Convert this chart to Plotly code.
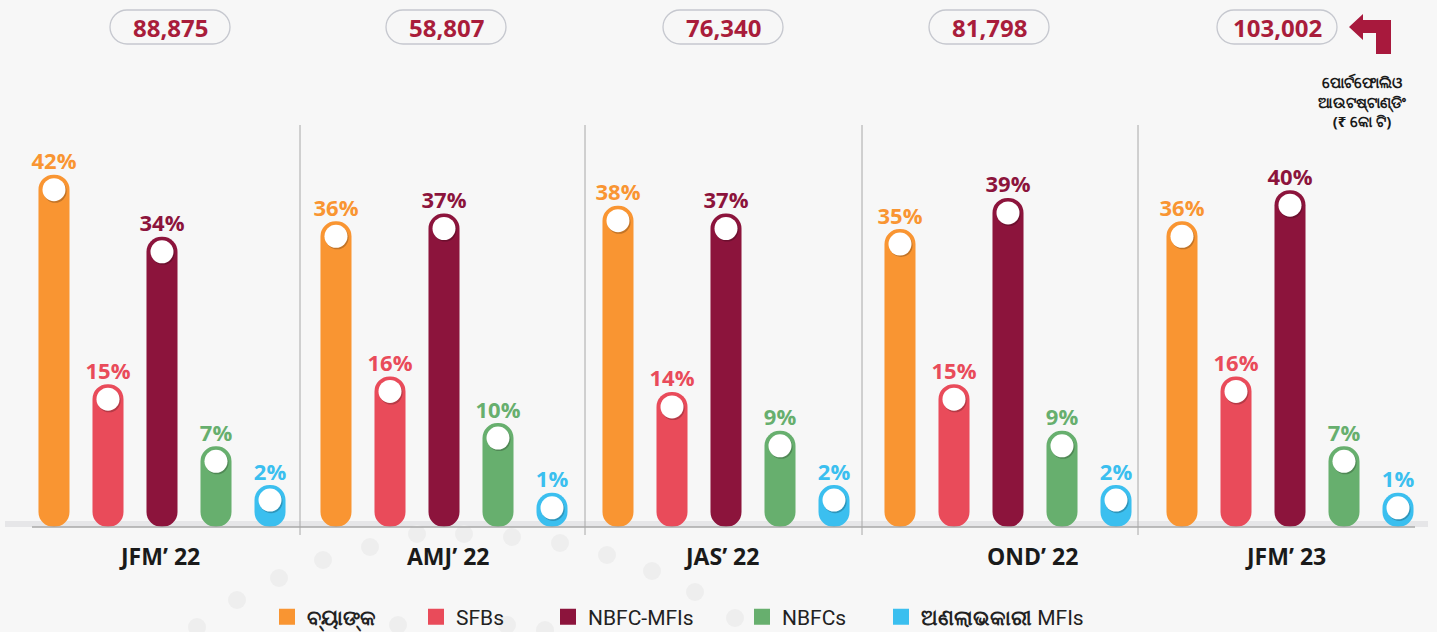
import plotly.graph_objects as go

quarters = ["JFM’ 22", "AMJ’ 22", "JAS’ 22", "OND’ 22", "JFM’ 23"]
banks = [42, 36, 38, 35, 36]
sfbs = [15, 16, 14, 15, 16]
nbfc_mfis = [34, 37, 37, 39, 40]
nbfcs = [7, 10, 9, 9, 7]
nonprofit_mfis = [2, 1, 2, 2, 1]
portfolio = [88875, 58807, 76340, 81798, 103002]

series = [
    ("<b>ବ୍ୟାଙ୍କ</b>", banks, "#F99532"),
    ("SFBs", sfbs, "#E94B5A"),
    ("NBFC-MFIs", nbfc_mfis, "#8C143C"),
    ("NBFCs", nbfcs, "#67AF6E"),
    ("<b>ଅଣଲାଭକାରୀ</b> MFIs", nonprofit_mfis, "#3BBFEF"),
]

BG = "#F7F7F7"
STEP = 0.1915
BAR_W = 0.11
SCALE = 7.76  # px per percentage point
PAD = 3.4     # bars start a little below the zero line, as in the original design
CAP = 15 / SCALE  # white dot sits this far below the bar top
L, T, W, H = 21, 100, 1410, 427  # plot area in pixels


def px(x):
    return (x - L) / W


def py(y):
    return (T + H - y) / H


legend_left = [280, 429, 561, 755, 894]

fig = go.Figure()

for j, (name, vals, col) in enumerate(series):
    off = (j - 2) * STEP
    xs = [i + off for i in range(len(quarters))]
    lg = "legend" if j == 0 else f"legend{j + 1}"
    fig.add_trace(go.Bar(
        x=list(range(len(quarters))), y=[v + PAD for v in vals], base=-PAD,
        offset=off - BAR_W / 2, width=BAR_W, showlegend=False,
        marker=dict(color=col, cornerradius="50%", line=dict(width=0)),
        hoverinfo="skip",
    ))
    fig.add_trace(go.Scatter(
        x=[x + 0.004 for x in xs], y=[v - CAP - 0.2 for v in vals], mode="markers",
        marker=dict(size=23, color="rgba(0,0,0,0.22)"),
        showlegend=False, hoverinfo="skip",
    ))
    fig.add_trace(go.Scatter(
        x=xs, y=[v - CAP for v in vals], mode="markers",
        marker=dict(size=23, color="white"),
        showlegend=False, hoverinfo="skip",
    ))
    fig.add_trace(go.Scatter(
        x=xs, y=vals, mode="text", text=[f"{v}%" for v in vals],
        textposition="top center",
        textfont=dict(family="Open Sans", size=22, color=col, weight="bold"),
        showlegend=False, hoverinfo="skip",
    ))
    # legend entry with a larger square swatch
    fig.add_trace(go.Scatter(
        x=[None], y=[None], mode="markers", name=name, legend=lg,
        marker=dict(symbol="square", size=16, color=col),
    ))

shapes = []
shapes.append(dict(type="rect", xref="paper", yref="paper", x0=px(5), x1=px(1428), y0=0, y1=6 / H,
                   fillcolor="#E6E6E8", line=dict(width=0), layer="below"))
shapes.append(dict(type="line", xref="paper", yref="paper", x0=px(32), x1=px(1415), y0=0, y1=0,
                   line=dict(color="#A8A8A8", width=1.5)))
for dvx in [300, 585, 862, 1138]:
    shapes.append(dict(type="line", xref="paper", yref="paper", x0=px(dvx), x1=px(dvx),
                       y0=-8 / H, y1=py(125), line=dict(color="#A8A8A8", width=1), layer="below"))

# decorative background dots
dots = [(237, 600), (279, 578), (323, 560), (370, 547), (417, 534), (464, 534), (512, 537),
        (560, 543), (607, 555), (652, 571), (695, 592), (735, 618), (197, 627), (507, 625),
        (545, 630), (398, 625)]
for dx, dy in dots:
    shapes.append(dict(type="circle", xref="paper", yref="paper",
                       xsizemode="pixel", ysizemode="pixel",
                       xanchor=px(dx), yanchor=py(dy), x0=-9, x1=9, y0=-9, y1=9,
                       fillcolor="#EEEEEE", line=dict(width=0), layer="below"))

# rounded pills for portfolio totals
k = 9.4
pill = (f"M -43,17 L 43,17 C {43 + k},17 60,{k} 60,0 C 60,{-k} {43 + k},-17 43,-17 "
        f"L -43,-17 C {-43 - k},-17 -60,{-k} -60,0 C -60,{k} {-43 - k},17 -43,17 Z")
pill_x = [170, 446, 723, 989, 1277]
pill_y = py(27)
for cx in pill_x:
    shapes.append(dict(type="path", xref="paper", yref="paper", xsizemode="pixel", ysizemode="pixel",
                       xanchor=px(cx), yanchor=pill_y, path=pill,
                       line=dict(color="#C6C8CF", width=1.3), fillcolor="rgba(0,0,0,0)"))

# bent arrow at top right
ax, ay = 1349, 27
pts = [(1349, 27), (1363, 14), (1363, 20), (1391, 20), (1391, 54), (1376, 54),
       (1376, 33), (1363, 33), (1363, 40)]
arrow = "M " + " L ".join(f"{x - ax},{ay - y}" for x, y in pts) + " Z"
shapes.append(dict(type="path", xref="paper", yref="paper", xsizemode="pixel", ysizemode="pixel",
                   xanchor=px(ax), yanchor=py(ay), path=arrow,
                   fillcolor="#A8193D", line=dict(width=0)))

annotations = []
for cx, p in zip(pill_x, portfolio):
    annotations.append(dict(x=px(cx), y=pill_y, xref="paper", yref="paper", text=f"<b>{p:,}</b>",
                            xanchor="center", yanchor="middle", showarrow=False,
                            font=dict(family="Open Sans", size=24, color="#A91D3B")))
label_x = [159, 448, 721, 1032, 1285]
for lx, q in zip(label_x, quarters):
    annotations.append(dict(x=px(lx), y=py(556), xref="paper", yref="paper", text=f"<b>{q}</b>",
                            xanchor="center", yanchor="middle", showarrow=False,
                            font=dict(family="Open Sans", size=23, color="#1A1A1A")))
annotations.append(dict(x=px(1362), y=py(101), xref="paper", yref="paper",
                        text="<b>ପୋର୍ଟଫୋଲିଓ<br>ଆଉଟଷ୍ଟାଣ୍ଡିଂ<br>(₹ କୋ ଟି)</b>",
                        xanchor="center", yanchor="middle", showarrow=False, align="center",
                        font=dict(family="Noto Sans", size=15, color="#1A1A1A")))

legends = {}
for j, lx in enumerate(legend_left):
    key = "legend" if j == 0 else f"legend{j + 1}"
    legends[key] = dict(x=px(lx - 13), xanchor="left", y=py(617), yanchor="middle",
                        orientation="h", bgcolor="rgba(0,0,0,0)", itemsizing="trace",
                        font=dict(family="Roboto", size=21, color="#222222"))

fig.update_layout(
    width=1437, height=632,
    paper_bgcolor=BG, plot_bgcolor=BG,
    margin=dict(l=L, r=1437 - L - W, t=T, b=632 - T - H, autoexpand=False),
    barmode="overlay",
    xaxis=dict(range=[-0.5, 4.5], showgrid=False, zeroline=False, showticklabels=False,
               fixedrange=True),
    yaxis=dict(range=[-PAD, -PAD + H / SCALE], showgrid=False, zeroline=False,
               showticklabels=False, fixedrange=True),
    shapes=shapes,
    annotations=annotations,
    showlegend=True,
    **legends,
)

fig.write_html("out.html", config={"displayModeBar": False},
               post_script="document.body.style.margin='0';")
